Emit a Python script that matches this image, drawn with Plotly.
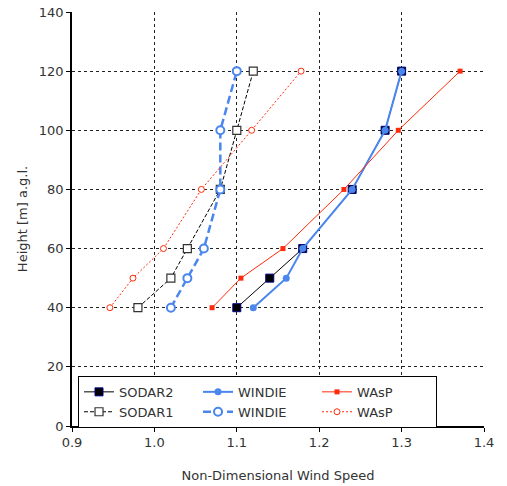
import plotly.graph_objects as go

heights = [40, 50, 60, 80, 100, 120]

sodar2 = [1.10, 1.14, 1.18, 1.24, 1.28, 1.30]
windie_solid = [1.12, 1.16, 1.18, 1.24, 1.28, 1.30]
wasp_solid = [1.07, 1.105, 1.156, 1.230, 1.296, 1.371]
sodar1 = [0.98, 1.02, 1.04, 1.08, 1.10, 1.12]
windie_dash = [1.02, 1.04, 1.06, 1.08, 1.08, 1.10]
wasp_dot = [0.946, 0.974, 1.011, 1.057, 1.118, 1.178]

x_ticks = [0.9, 1.0, 1.1, 1.2, 1.3, 1.4]
x_tick_labels = ["0.9", "1.0", "1.1", "1.2", "1.3", "1.4"]
y_ticks = [0, 20, 40, 60, 80, 100, 120, 140]

BLUE = "#4A86EE"
RED = "#FF2A0A"

fig = go.Figure()

fig.add_trace(go.Scatter(
    x=sodar2, y=heights, name="SODAR2", mode="lines+markers",
    line=dict(color="black", width=1),
    marker=dict(symbol="square", size=8, color="black", line=dict(color="#000080", width=1)),
))
fig.add_trace(go.Scatter(
    x=windie_solid, y=heights, name="WINDIE", mode="lines+markers",
    line=dict(color=BLUE, width=2),
    marker=dict(symbol="circle", size=7, color=BLUE),
))
fig.add_trace(go.Scatter(
    x=wasp_solid, y=heights, name="WAsP", mode="lines+markers",
    line=dict(color=RED, width=1),
    marker=dict(symbol="square", size=5, color=RED),
))
fig.add_trace(go.Scatter(
    x=sodar1, y=heights, name="SODAR1", mode="lines+markers",
    line=dict(color="black", width=1, dash="4px,2px"),
    marker=dict(symbol="square", size=8, color="white", line=dict(color="#333333", width=1.2)),
))
fig.add_trace(go.Scatter(
    x=windie_dash, y=heights, name="WINDIE", mode="lines+markers",
    line=dict(color=BLUE, width=2.5, dash="8px,4px"),
    marker=dict(symbol="circle", size=8, color="white", line=dict(color=BLUE, width=2)),
))
fig.add_trace(go.Scatter(
    x=wasp_dot, y=heights, name="WAsP", mode="lines+markers",
    line=dict(color=RED, width=1, dash="2px,2px"),
    marker=dict(symbol="circle", size=6, color="white", line=dict(color=RED, width=1)),
))

axis_common = dict(
    showgrid=True, gridcolor="#222222", griddash="dot", gridwidth=1,
    showline=True, linecolor="black", linewidth=1.5,
    ticks="outside", ticklen=4, tickcolor="black",
    zeroline=False, mirror=False,
    tickfont=dict(family="DejaVu Sans", size=13, color="#333333"),
)

fig.update_layout(
    width=507, height=486,
    margin=dict(l=72, r=23, t=12, b=60, autoexpand=False),
    plot_bgcolor="white", paper_bgcolor="white",
    font=dict(family="DejaVu Sans", size=13, color="#333333"),
    xaxis=dict(range=[0.9, 1.4], tickvals=x_ticks, ticktext=x_tick_labels,
               title=dict(text="Non-Dimensional Wind Speed", standoff=22,
                          font=dict(family="DejaVu Sans", size=13)),
               **axis_common),
    yaxis=dict(range=[0, 140], tickvals=y_ticks,
               title=dict(text="Height [m] a.g.l.", standoff=8,
                          font=dict(family="DejaVu Sans", size=13)),
               **axis_common),
    legend=dict(
        orientation="h", x=0.0146, y=0.121, xanchor="left", yanchor="top",
        bordercolor="black", borderwidth=1, bgcolor="white",
        entrywidth=74, entrywidthmode="pixels",
        font=dict(family="DejaVu Sans", size=13, color="#333333"),
        itemwidth=30,
    ),
    showlegend=True,
)

fig.write_html("out.html")
